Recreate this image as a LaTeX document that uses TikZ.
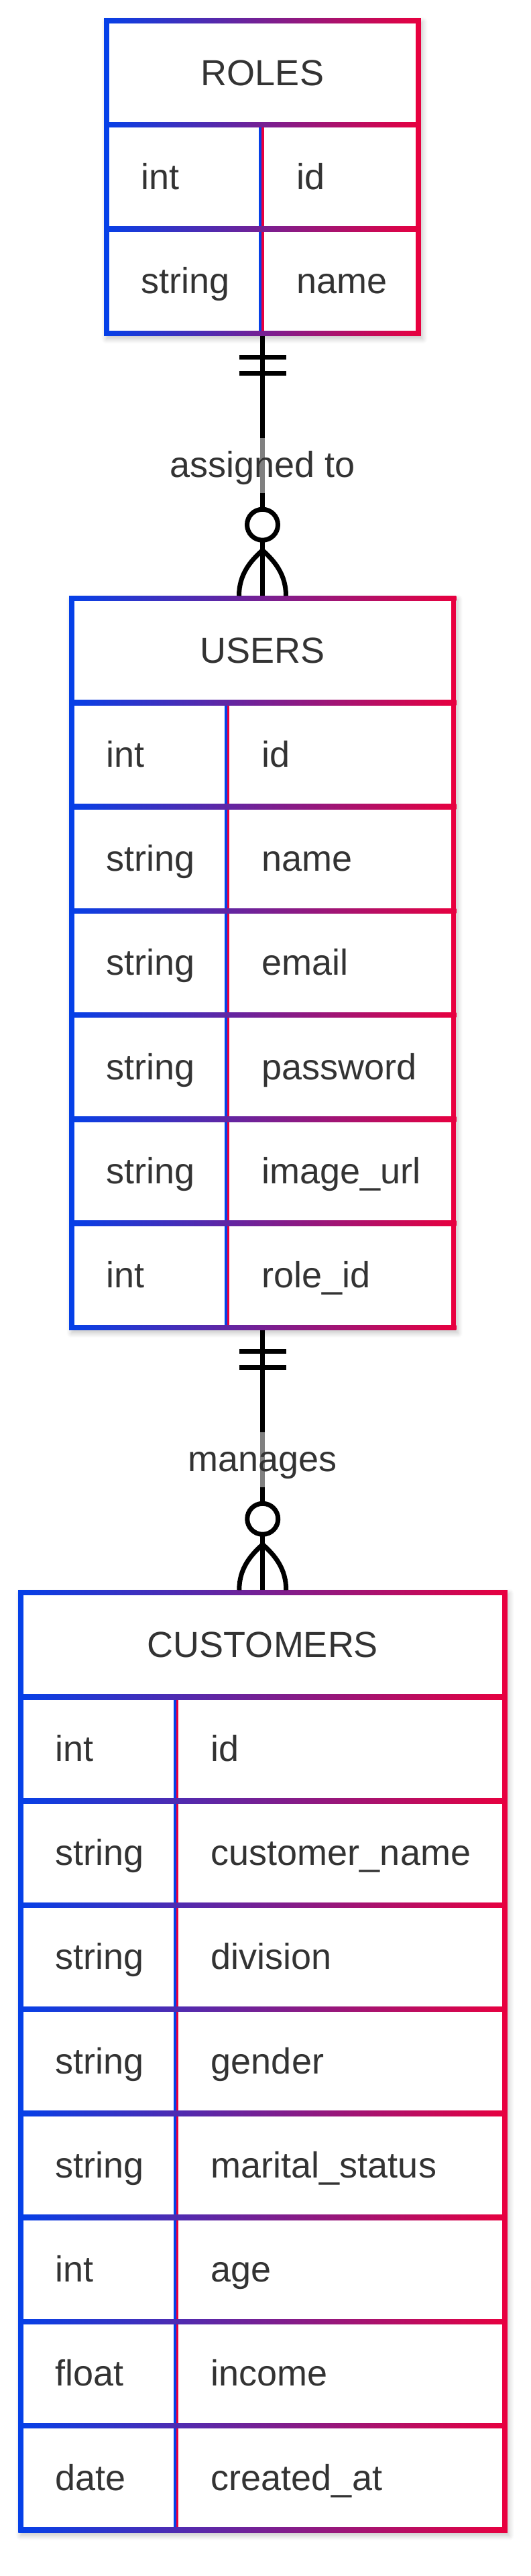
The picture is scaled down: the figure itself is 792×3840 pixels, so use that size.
\documentclass[tikz,border=0pt]{standalone}
\usepackage{fontspec}
\setmainfont{Liberation Sans}
\usetikzlibrary{calc,shadows.blur}
\definecolor{erblue}{HTML}{0540E8}
\definecolor{erred}{HTML}{E8003F}
\definecolor{ertxt}{HTML}{333333}
\newcommand{\erfont}{\fontsize{54pt}{64pt}\selectfont}
\def\rowh{155.25}
\def\hw{3.75}
\def\sw{7.5}
\tikzset{
  erbg/.style={rectangle, fill=white, draw=none, inner sep=0pt, outer sep=0pt,
    blur shadow={shadow xshift=3pt, shadow yshift=-5pt, shadow blur radius=7pt, shadow opacity=22, shadow blur steps=8}},
  ertext/.style={font=\erfont, text=ertxt, inner sep=0pt},
  conn/.style={line width=7.3pt, draw=black},
  crowmark/.style={line width=7pt, draw=black},
  erlabel/.style={font=\erfont, text=ertxt, fill=white, fill opacity=0.5, text opacity=1,
    inner sep=0pt, inner xsep=2pt, text height=58.5pt, text depth=23.5pt},
}
% #1 name, #2 left, #3 right, #4 top, #5 divider, #6 title, #7 rows, #8 number of rows
\newcommand{\erent}[8]{%
  \pgfmathsetmacro{\eH}{#4+\rowh}%
  \pgfmathsetmacro{\eB}{\eH+#8*\rowh}%
  \pgfmathsetmacro{\eW}{#3-#2+\sw}%
  \pgfmathsetmacro{\eHt}{\eB-#4+\sw}%
  \pgfmathtruncatemacro{\eM}{#8+1}%
  \node[erbg, minimum width=\eW pt, minimum height=\eHt pt] (#1) at ({(#2+#3)/2},{(#4+\eB)/2}) {};
  \fill[erblue] ({#5-\hw},\eH) rectangle (#5,\eB);
  \fill[erred] (#5,\eH) rectangle ({#5+\hw},\eB);
  \fill[erblue] ({#2-\hw},{#4-\hw}) rectangle ({#2+\hw},{\eB+\hw});
  \fill[erred] ({#3-\hw},{#4-\hw}) rectangle ({#3+\hw},{\eB+\hw});
  \foreach \k in {0,...,\eM}{
    \shade[left color=erblue, right color=erred] ({#2-\hw},{#4+\k*\rowh-\hw}) rectangle ({#3+\hw},{#4+\k*\rowh+\hw});
  }
  \node[ertext, anchor=base] (#1-title) at ({(#2+#3)/2},{#4+\rowh/2+18.5}) {#6};
  \foreach [count=\i] \ty/\nm in {#7}{
    \pgfmathsetmacro{\yy}{\eH+(\i-0.5)*\rowh+18.5}
    \node[ertext, anchor=base west] (#1-t\i) at ({#2+51},\yy) {\ty};
    \node[ertext, anchor=base west] (#1-n\i) at ({#5+52},\yy) {\nm};
  }
}
% relationship marks: #1 upper entity, #2 lower entity
\newcommand{\ermarks}[2]{%
  \draw[crowmark] ($(#1.south)+(-35,31.5)$) -- ($(#1.south)+(35,31.5)$);
  \draw[crowmark] ($(#1.south)+(-35,55.5)$) -- ($(#1.south)+(35,55.5)$);
  \coordinate (#2-apex) at ($(#1.south |- #2.north)+(0,-68)$);
  \coordinate (#2-footL) at ($(#1.south |- #2.north)+(-35,0)$);
  \coordinate (#2-footR) at ($(#1.south |- #2.north)+(35,0)$);
  \draw[crowmark] (#2-footL) .. controls ($(#2-footL)+(0,-32)$) and ($(#2-apex)+(-18,16)$) .. (#2-apex)
     .. controls ($(#2-apex)+(18,16)$) and ($(#2-footR)+(0,-32)$) .. (#2-footR);
  \draw[crowmark, fill=white] ($(#1.south |- #2.north)+(0,-106)$) circle[radius=23];
}
\begin{document}
\begin{tikzpicture}[x=1pt,y=-1pt]
\useasboundingbox (0,0) rectangle (792,3840);
\erent{roles}{159}{624}{31}{390}{ROLES}{int/id, string/name}{2}
\erent{users}{107}{676.5}{892}{338.5}{USERS}{int/id, string/name, string/email, string/password, string/image\_url, int/role\_id}{6}
\erent{customers}{31}{753}{2374}{262.7}{CUSTOMERS}{int/id, string/customer\_name, string/division, string/gender, string/marital\_status, int/age, float/income, date/created\_at}{8}
\draw[conn] (roles.south) -- (roles.south |- users.north) node[midway, erlabel] (lbl1) {assigned to};
\ermarks{roles}{users}
\draw[conn] (users.south) -- (users.south |- customers.north) node[midway, erlabel] (lbl2) {manages};
\ermarks{users}{customers}
\end{tikzpicture}
\end{document}
